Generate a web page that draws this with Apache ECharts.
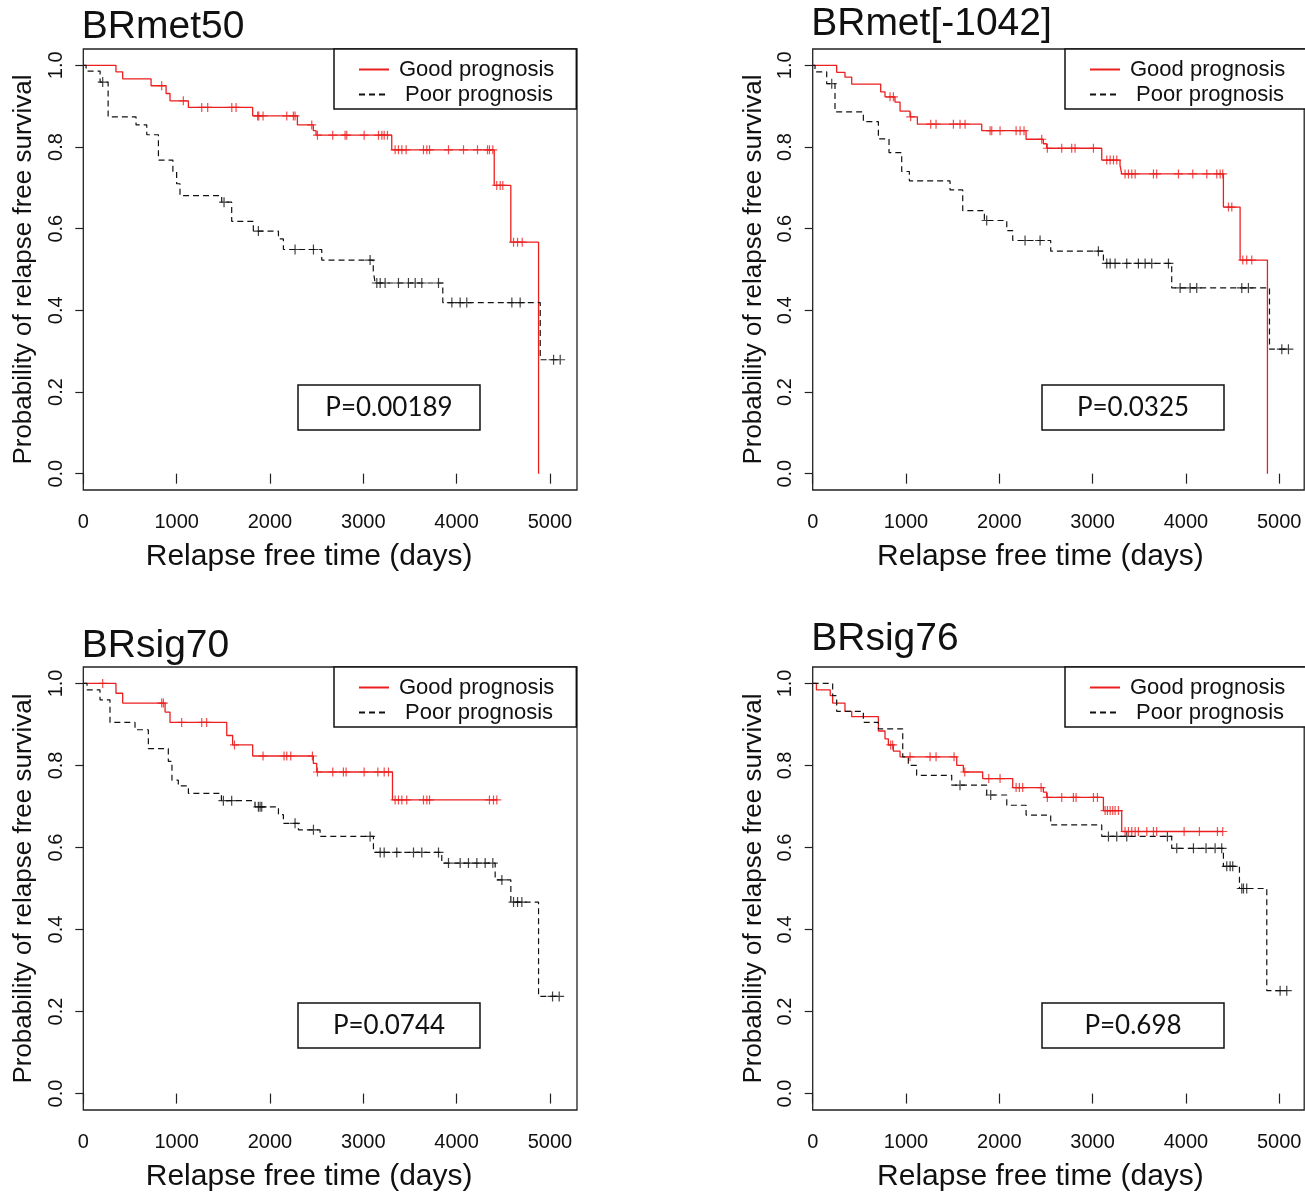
<!DOCTYPE html>
<html lang="en">

<head>
    <meta charset="UTF-8">
    <title>Relapse free survival</title>
    <script src="https://cdn.jsdelivr.net/npm/echarts@6/dist/echarts.min.js"></script>
    <style>
        html, body { margin: 0; background: #fff; }
    </style>
</head>

<body>
    <div id="main" style="width: 1305px;height:1194px;"></div>
    <script type="text/javascript">
        // panel texts
        const panelTitles = ['BRmet50', 'BRmet[-1042]', 'BRsig70', 'BRsig76'];
        const pValues = ['P=0.00189', 'P=0.0325', 'P=0.0744', 'P=0.698'];
        const xTicks = [0, 1000, 2000, 3000, 4000, 5000];
        const yTicks = [0, 0.2, 0.4, 0.6, 0.8, 1.0];

        // Kaplan-Meier steps: [time (days), survival after that time]
        // censor lists: times of the "+" marks
        const met50GoodSteps = [[0, 1], [350, 0.984], [422, 0.967], [726, 0.95], [887, 0.931], [929, 0.913], [1126, 0.897],
            [1815, 0.876], [2294, 0.854], [2465, 0.84], [2494, 0.829], [3305, 0.793], [4403, 0.706], [4581, 0.567], [4878, 0]];
        const met50GoodCens = [840, 1072, 1269, 1333, 1591, 1637, 1868, 1880, 1926, 2180, 2251, 2269, 2448, 2509, 2673, 2805,
            2823, 3009, 3163, 3199, 3224, 3259, 3341, 3377, 3413, 3459, 3645, 3681, 3710, 3913, 4074, 4224, 4331, 4352, 4388,
            4430, 4467, 4495, 4610, 4653, 4703];
        const met50PoorSteps = [[0, 1], [30, 0.986], [180, 0.959], [266, 0.874], [565, 0.854], [680, 0.83], [805, 0.768],
            [960, 0.74], [1000, 0.71], [1036, 0.681], [1483, 0.665], [1590, 0.618], [1822, 0.594], [2091, 0.575], [2144, 0.549],
            [2555, 0.523], [3107, 0.496], [3127, 0.467], [3852, 0.419], [4896, 0.279], [5110, 0.279]];
        const met50PoorCens = [208, 1508, 1876, 2269, 2466, 3073, 3145, 3181, 3234, 3377, 3484, 3556, 3627, 3806, 3949, 4038,
            4109, 4592, 4681, 5039, 5110];

        const met1042GoodSteps = [[0, 1], [257, 0.983], [346, 0.971], [418, 0.954], [729, 0.935], [775, 0.923], [882, 0.91],
            [936, 0.888], [1043, 0.874], [1122, 0.856], [1812, 0.84], [2287, 0.819], [2472, 0.808], [2508, 0.797], [3098, 0.768],
            [3294, 0.755], [3312, 0.734], [4402, 0.653], [4581, 0.523], [4874, 0]];
        const met1042GoodCens = [829, 865, 1050, 1265, 1322, 1508, 1579, 1633, 1901, 1919, 2008, 2180, 2223, 2265, 2455, 2515,
            2669, 2776, 2812, 3009, 3152, 3188, 3224, 3259, 3348, 3384, 3420, 3456, 3652, 3687, 3920, 4074, 4224, 4331, 4367,
            4395, 4456, 4492, 4610, 4652, 4706];
        const met1042PoorSteps = [[0, 1], [25, 0.984], [150, 0.955], [239, 0.886], [543, 0.862], [704, 0.82], [818, 0.786],
            [954, 0.74], [1036, 0.717], [1472, 0.695], [1608, 0.644], [1840, 0.62], [2080, 0.595], [2144, 0.571], [2551, 0.545],
            [3116, 0.515], [3848, 0.455], [4896, 0.305], [5099, 0.305]];
        const met1042PoorCens = [204, 1865, 2276, 2437, 3062, 3152, 3188, 3241, 3366, 3491, 3563, 3634, 3813, 3938, 4045, 4116,
            4599, 4670, 5028, 5099];

        const sig70GoodSteps = [[0, 1], [350, 0.976], [422, 0.952], [876, 0.93], [929, 0.905], [1537, 0.873], [1600, 0.85],
            [1815, 0.823], [2465, 0.805], [2501, 0.784], [3313, 0.716], [4431, 0.716]];
        const sig70GoodCens = [208, 840, 858, 1054, 1269, 1322, 1620, 1926, 2151, 2180, 2223, 2455, 2509, 2673, 2787, 2816,
            3009, 3156, 3224, 3270, 3341, 3377, 3413, 3466, 3645, 3681, 3710, 4352, 4395, 4431];
        const sig70PoorSteps = [[0, 1], [40, 0.984], [179, 0.96], [286, 0.905], [554, 0.887], [697, 0.841], [911, 0.81],
            [950, 0.764], [1018, 0.75], [1126, 0.732], [1480, 0.714], [1840, 0.699], [2091, 0.68], [2144, 0.659], [2305, 0.643],
            [2537, 0.627], [3109, 0.588], [3841, 0.562], [4413, 0.521], [4581, 0.467], [4878, 0.237], [5099, 0.237]];
        const sig70PoorCens = [1501, 1590, 1876, 1894, 1912, 2269, 2466, 3073, 3181, 3224, 3359, 3538, 3627, 3806, 3913, 4038,
            4127, 4217, 4306, 4388, 4485, 4610, 4653, 4699, 5028, 5099];

        const sig76GoodSteps = [[0, 1], [40, 0.984], [188, 0.97], [214, 0.952], [346, 0.932], [418, 0.919], [704, 0.884],
            [775, 0.865], [811, 0.85], [864, 0.835], [936, 0.821], [1544, 0.8], [1615, 0.784], [1822, 0.768], [2144, 0.746],
            [2472, 0.735], [2508, 0.722], [3116, 0.69], [3312, 0.639], [4395, 0.639]];
        const sig76GoodCens = [836, 857, 1043, 1258, 1322, 1515, 1630, 1887, 2008, 2180, 2215, 2251, 2448, 2515, 2669, 2794,
            2823, 3009, 3052, 3134, 3159, 3188, 3216, 3241, 3277, 3348, 3384, 3420, 3456, 3491, 3581, 3652, 3687, 3981, 4145,
            4338, 4395];
        const sig76PoorSteps = [[0, 1], [214, 0.97], [257, 0.932], [543, 0.905], [704, 0.889], [965, 0.821], [1025, 0.8],
            [1114, 0.776], [1490, 0.752], [1865, 0.728], [2080, 0.703], [2287, 0.679], [2551, 0.655], [3098, 0.627],
            [3848, 0.598], [4402, 0.554], [4574, 0.5], [4867, 0.251], [5081, 0.251]];
        const sig76PoorCens = [1579, 1908, 3170, 3259, 3366, 3802, 3902, 4081, 4216, 4313, 4384, 4438, 4474, 4502, 4599, 4617,
            4652, 5010, 5081];

        const panelData = [
            [met50GoodSteps, met50GoodCens, met50PoorSteps, met50PoorCens],
            [met1042GoodSteps, met1042GoodCens, met1042PoorSteps, met1042PoorCens],
            [sig70GoodSteps, sig70GoodCens, sig70PoorSteps, sig70PoorCens],
            [sig76GoodSteps, sig76GoodCens, sig76PoorSteps, sig76PoorCens]
        ];

        // where each panel sits on the page
        const layout = [
            { left: 83.3, top: 49, width: 493.7, height: 441, xMax: 5290, titleTop: 7, legendLeft: 334, boxX: 298, boxY: 385, nameShift: 42 },
            { left: 812.7, top: 49, width: 491.5, height: 441, xMax: 5268, titleTop: 4, legendLeft: 1065, boxX: 1042, boxY: 385, nameShift: 36 },
            { left: 83.3, top: 667, width: 493.7, height: 443, xMax: 5290, titleTop: 626, legendLeft: 334, boxX: 298, boxY: 1003, nameShift: 42 },
            { left: 812.7, top: 667, width: 491.5, height: 443, xMax: 5268, titleTop: 619, legendLeft: 1065, boxX: 1042, boxY: 1003, nameShift: 36 }
        ];

        const font = '"Liberation Sans", Arial, sans-serif';
        const red = '#ec1f1f';
        const ink = '#111';
        const plus = 'path://M0,5L10,5M5,0L5,10';

        // survival level at time t, from the step list
        function levelAt(steps, t) {
            let s = steps[0][1];
            steps.forEach(p => { if (p[0] <= t) s = p[1]; });
            return s;
        }

        let options = {
            backgroundColor: '#fff',
            animation: false,
            title: [], grid: [], xAxis: [], yAxis: [], legend: [], series: [], graphic: []
        };

        layout.forEach((L, i) => {
            const [goodSteps, goodCens, poorSteps, poorCens] = panelData[i];

            options.title.push({
                text: panelTitles[i], left: L.left - 1.5, top: L.titleTop, padding: 0,
                textStyle: { fontFamily: font, fontSize: 39, fontWeight: 'normal', color: ink, lineHeight: 41 }
            });

            options.grid.push({
                left: L.left, top: L.top, width: L.width, height: L.height,
                show: true, borderColor: '#222', borderWidth: 1.3, backgroundColor: 'transparent'
            });

            options.xAxis.push({
                gridIndex: i, type: 'value', min: 0, max: L.xMax,
                axisLine: { show: false }, splitLine: { show: false },
                axisTick: { show: true, length: 10, customValues: xTicks, lineStyle: { color: '#222', width: 1.2 } },
                axisLabel: {
                    customValues: xTicks, margin: 22, fontSize: 20, color: ink, fontFamily: font,
                    formatter: v => String(v)
                },
                name: 'Relapse free time (days)', nameLocation: 'middle', nameGap: 52,
                nameTextStyle: { fontSize: 30, color: ink, fontFamily: font, padding: [0, L.nameShift, 0, 0] }
            });

            options.yAxis.push({
                gridIndex: i, type: 'value', min: -0.04, max: 1.04,
                axisLine: { show: false }, splitLine: { show: false },
                axisTick: { show: true, length: 8, customValues: yTicks, lineStyle: { color: '#222', width: 1.2 } },
                axisLabel: {
                    customValues: yTicks, rotate: 90, margin: 17, fontSize: 20, color: ink, fontFamily: font,
                    formatter: v => v.toFixed(1)
                },
                name: 'Probability of relapse free survival', nameLocation: 'middle', nameRotate: 90, nameGap: 46,
                nameTextStyle: { fontSize: 26, color: ink, fontFamily: font }
            });

            options.legend.push({
                orient: 'vertical', left: L.legendLeft, top: L.top,
                data: ['Good prognosis', 'Poor prognosis'], selectedMode: false,
                itemWidth: 30, itemHeight: 14, itemGap: 0, padding: [8, 22, 2, 24],
                borderColor: ink, borderWidth: 1.5, backgroundColor: '#fff',
                itemStyle: { opacity: 0 },
                formatter: n => n === 'Poor prognosis' ? ' ' + n : n,
                textStyle: { fontSize: 22, lineHeight: 25, color: ink, fontFamily: font, padding: [0, 0, 0, 5] }
            });

            options.series.push(
                {
                    type: 'line', name: 'Good prognosis', xAxisIndex: i, yAxisIndex: i, data: goodSteps,
                    step: 'end', symbol: 'none', silent: true,
                    lineStyle: { color: red, width: 1.3 }, itemStyle: { color: red }
                },
                {
                    type: 'line', name: 'Poor prognosis', xAxisIndex: i, yAxisIndex: i, data: poorSteps,
                    step: 'end', symbol: 'none', silent: true,
                    lineStyle: { color: ink, width: 1.2, type: [6, 4] }, itemStyle: { color: ink }
                },
                {
                    type: 'scatter', name: 'good censored', xAxisIndex: i, yAxisIndex: i, silent: true,
                    data: goodCens.map(t => [t, levelAt(goodSteps, t)]),
                    symbol: plus, symbolSize: 9,
                    itemStyle: { color: 'rgba(0,0,0,0)', borderColor: red, borderWidth: 1.2 }
                },
                {
                    type: 'scatter', name: 'poor censored', xAxisIndex: i, yAxisIndex: i, silent: true,
                    data: poorCens.map(t => [t, levelAt(poorSteps, t)]),
                    symbol: plus, symbolSize: 10,
                    itemStyle: { color: 'rgba(0,0,0,0)', borderColor: ink, borderWidth: 1.2 }
                }
            );

            // P value box
            options.graphic.push(
                {
                    type: 'rect', shape: { x: L.boxX, y: L.boxY, width: 182, height: 45 },
                    style: { fill: '#fff', stroke: ink, lineWidth: 1.5 }, z: 10
                },
                {
                    type: 'text', x: L.boxX + 91, y: L.boxY + 23, z: 11,
                    style: {
                        text: pValues[i], fontSize: 26, fontFamily: 'Lato, "Open Sans", sans-serif', fill: ink,
                        align: 'center', verticalAlign: 'middle'
                    }
                }
            );
        });

        let myChart = echarts.init(document.getElementById('main'));
        myChart.setOption(options);
    </script>
</body>

</html>
